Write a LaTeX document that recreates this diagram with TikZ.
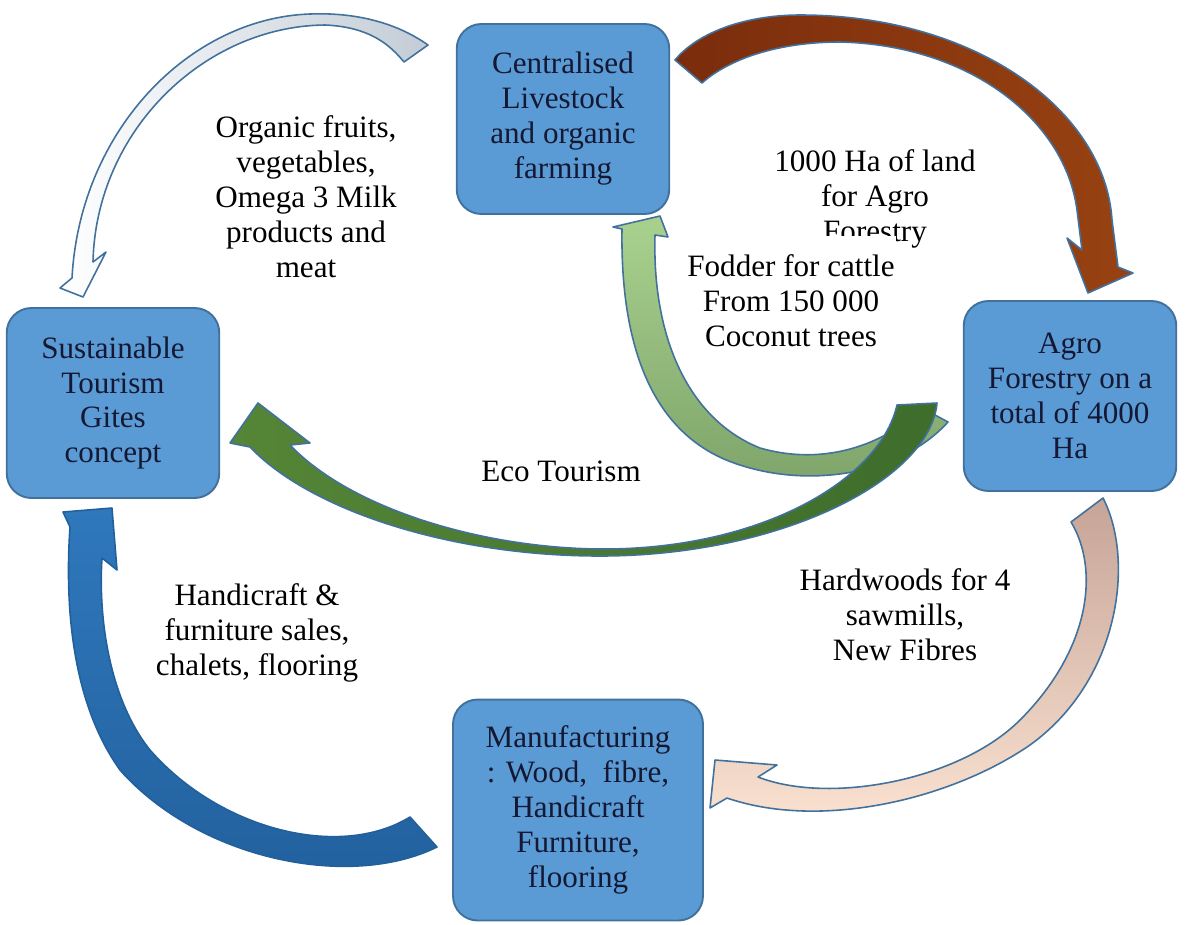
\documentclass[tikz,border=0pt]{standalone}
\usepackage{fontspec}
\setmainfont{Liberation Serif}
\usepackage{xcolor}

\definecolor{boxfill}{HTML}{5B9BD5}
\definecolor{boxline}{HTML}{41719C}
\definecolor{boxtext}{HTML}{141832}
\definecolor{arrline}{HTML}{41719C}
\definecolor{greytail}{HTML}{C3CCD6}
\definecolor{browntail}{HTML}{7A2C0C}
\definecolor{brownhead}{HTML}{984212}
\definecolor{fodtop}{HTML}{A9D18E}
\definecolor{fodbot}{HTML}{7EA46A}
\definecolor{ecohead}{HTML}{558536}
\definecolor{ecotail}{HTML}{3E6D2C}
\definecolor{hardtail}{HTML}{C6A497}
\definecolor{hardhead}{HTML}{FBE3D2}
\definecolor{handhead}{HTML}{2F78BC}
\definecolor{handtail}{HTML}{22609D}

\newcommand{\diagfont}{\fontsize{17.7}{19.9}\selectfont}

\begin{document}
\begin{tikzpicture}
   [x=0.02cm, y=-0.02cm,
   stage/.style={rectangle, rounded corners=14pt, draw=boxline, fill=boxfill, line width=1.1pt, align=center, text=boxtext, font=\diagfont, minimum width=4.25cm, minimum height=3.8cm},
   flowtext/.style={align=center, font=\diagfont},
   band/.style={draw=arrline, line width=0.9pt, line join=round},
   ]
 \useasboundingbox (0,0) rectangle (1190,924);
 \node at (563,119) [stage] (cent) {Centralised\\Livestock\\and organic\\farming};
 \node at (113,403) [stage] (sust) {Sustainable\\Tourism\\Gites\\concept};
 \node at (1070,396) [stage] (agro) {Agro\\Forestry on a\\total of 4000\\Ha};
 \node at (578,810) [stage, minimum width=5cm, minimum height=4.42cm] (manu) {Manufacturing\\: Wood,~ fibre,\\Handicraft\\Furniture,\\flooring};

 % cent -> sust
 \draw[band, left color=white, right color=greytail] (428,45) .. controls (400,25) and (360,12) .. (310,14) .. controls (190,18) and (80,130) .. (72,278) -- (60,288) -- (83,297) -- (106,252) -- (93,262) .. controls (96,130) and (205,26) .. (325,25) .. controls (370,27) and (390,45) .. (404,62) -- cycle;
 % cent -> agro
 \draw[band, left color=browntail, right color=brownhead] (675,60) .. controls (700,30) and (750,15) .. (800,15) .. controls (975,15) and (1105,110) .. (1112,220) -- (1118,267) -- (1133,273) -- (1088,293) -- (1067,238) -- (1082,250) -- (1077,210) .. controls (1065,120) and (970,45) .. (840,42) .. controls (780,42) and (730,58) .. (702,83) -- cycle;
 % agro -> cent
 \draw[band, top color=fodtop, bottom color=fodbot] (948,422) .. controls (900,475) and (810,488) .. (740,465) .. controls (660,440) and (620,360) .. (622,229) -- (613,227) -- (660,216) -- (668,237) -- (655,235) .. controls (652,340) and (690,420) .. (760,448) .. controls (830,468) and (890,440) .. (922,408) -- cycle;
 % agro -> sust
 \draw[band, left color=ecohead, right color=ecotail] (897,405) -- (937,403) .. controls (930,480) and (780,556) .. (600,556) .. controls (450,556) and (310,510) .. (250,447) -- (230,443) -- (258,403) -- (310,443) -- (290,445) .. controls (350,508) and (480,548) .. (600,549) .. controls (760,550) and (880,480) .. (897,405) -- cycle;
 % agro -> manu
 \draw[band, top color=hardtail, bottom color=hardhead] (1103,498) .. controls (1135,560) and (1120,680) .. (1030,745) .. controls (950,800) and (820,830) .. (727,798) -- (710,808) -- (715,760) -- (777,765) -- (758,777) .. controls (830,805) and (960,780) .. (1020,720) .. controls (1090,650) and (1100,570) .. (1071,522) -- cycle;
 % manu -> sust
 \draw[band, draw=handtail, top color=handhead, bottom color=handtail] (437,847) .. controls (350,890) and (200,860) .. (120,770) .. controls (70,700) and (65,600) .. (70,527) -- (63,512) -- (112,508) -- (117,570) -- (102,558) .. controls (98,620) and (110,700) .. (150,750) .. controls (220,830) and (340,860) .. (410,817) -- cycle;

 \node at (306,197) [flowtext] (org) {Organic fruits,\\vegetables,\\Omega 3 Milk\\products and\\meat};
 \node at (875,199) [flowtext] (land) {1000 Ha of land\\for Agro\\Forestry};
 \node at (791,301) [flowtext, fill=white, inner xsep=1pt, inner ysep=11pt] (fodder) {Fodder for cattle\\From 150 000\\Coconut trees};
 \node at (561,471) [flowtext] (eco) {Eco Tourism};
 \node at (257,633) [flowtext] (hand) {Handicraft \&\\furniture sales,\\chalets, flooring};
 \node at (905,615) [flowtext] (hard) {Hardwoods for 4\\sawmills,\\New Fibres};
\end{tikzpicture}
\end{document}
